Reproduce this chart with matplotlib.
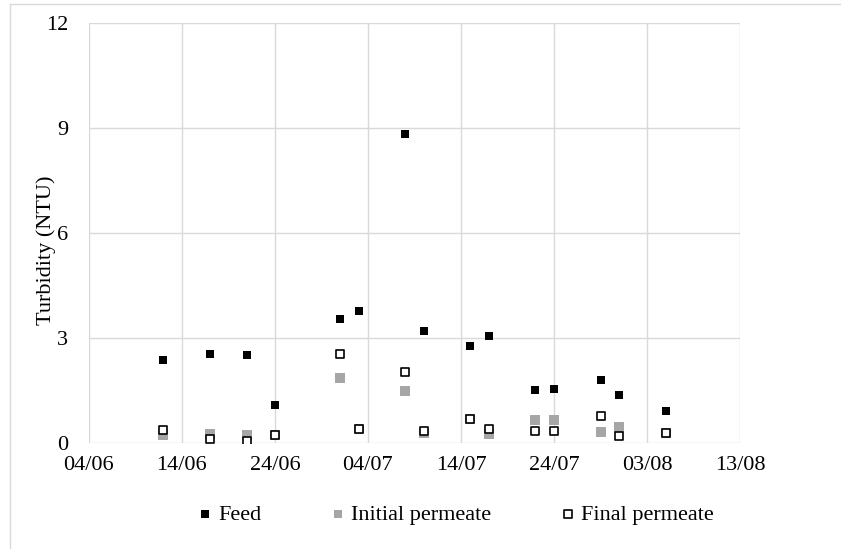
import pandas as pd
import matplotlib.pyplot as plt
import matplotlib.dates as mdates
from matplotlib.lines import Line2D

# sampling dates (day/month) and turbidity readings in NTU
dates = ["12/06", "17/06", "21/06", "24/06", "01/07", "03/07", "08/07", "10/07",
         "15/07", "17/07", "22/07", "24/07", "29/07", "31/07", "05/08"]
feed = [2.37, 2.56, 2.53, 1.08, 3.55, 3.78, 8.82, 3.19,
        2.78, 3.07, 1.53, 1.54, 1.82, 1.37, 0.93]
initial_permeate = [0.25, 0.28, 0.25, 0.25, 1.86, 0.40, 1.48, 0.29,
                    0.68, 0.28, 0.66, 0.66, 0.33, 0.47, 0.30]
final_permeate = [0.38, 0.13, 0.08, 0.25, 2.56, 0.40, 2.04, 0.36,
                  0.68, 0.41, 0.36, 0.36, 0.78, 0.21, 0.30]
tick_dates = ["04/06", "14/06", "24/06", "04/07", "14/07", "24/07", "03/08", "13/08"]

x = pd.to_datetime([d + "/2019" for d in dates], format="%d/%m/%Y")
ticks = pd.to_datetime([d + "/2019" for d in tick_dates], format="%d/%m/%Y")

plt.rcParams["font.family"] = ["Liberation Serif", "DejaVu Serif"]
grid_col = "#d9d9d9"

fig = plt.figure(figsize=(8.41, 5.49), dpi=100)
ax = fig.add_axes([0.1055, 0.1925, 0.7745, 0.7662])

ax.scatter(x, feed, marker="s", s=32, color="black", linewidth=0,
           label="Feed", zorder=3)
ax.scatter(x, initial_permeate, marker="s", s=44, color="#a6a6a6", linewidth=0,
           label="Initial permeate", zorder=3)
ax.scatter(x, final_permeate, marker="s", s=40, facecolor="white",
           edgecolor="black", linewidth=1.2, label="Final permeate", zorder=4)

ax.set_xlim(ticks[0], ticks[-1])
ax.set_ylim(0, 12)
ax.set_xticks(ticks)
ax.xaxis.set_major_formatter(mdates.DateFormatter("%d/%m"))
ax.set_yticks([0, 3, 6, 9, 12])
ax.grid(True, color=grid_col, linewidth=1)
ax.set_axisbelow(True)
for s in ax.spines.values():
    s.set_visible(False)
ax.tick_params(length=0, labelsize=16)
ax.tick_params(axis="y", pad=15)
ax.tick_params(axis="x", pad=9)

ax.set_ylabel("Turbidity (NTU)", fontsize=16)
ax.yaxis.set_label_coords(-0.05, 0.46)

fig.legend(loc="center", bbox_to_anchor=(454 / 841, 1 - 515 / 549), ncol=3,
           frameon=False, fontsize=16, handlelength=1.0, handletextpad=0.1,
           columnspacing=2.95, markerscale=0.9)

# thin frame round the chart area
fig.add_artist(Line2D([10 / 841, 10 / 841], [0, 1 - 4 / 549], color=grid_col, lw=1))
fig.add_artist(Line2D([10 / 841, 1], [1 - 4 / 549, 1 - 4 / 549], color=grid_col, lw=1))

plt.savefig("out.png")
plt.close()
